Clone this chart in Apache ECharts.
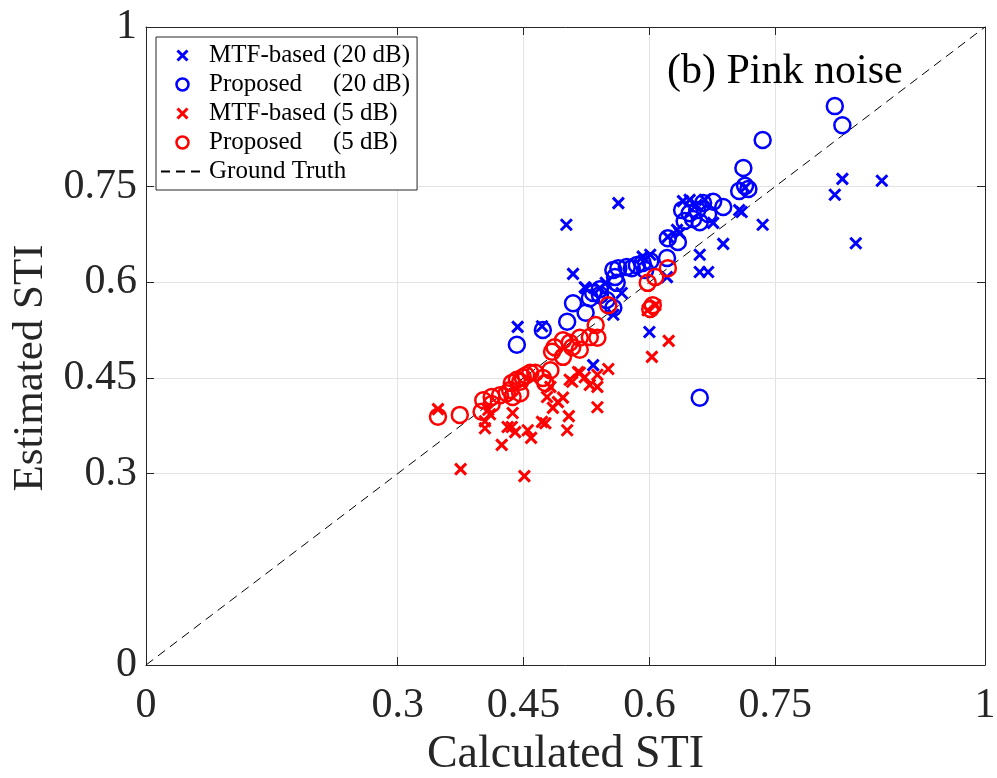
<!DOCTYPE html>
<html>
<head>
<meta charset="utf-8">
<script src="https://cdn.jsdelivr.net/npm/echarts@6/dist/echarts.min.js"></script>
<style>html,body{margin:0;padding:0;background:#fff;}#chart{width:997px;height:778px;}</style>
</head>
<body>
<div id="chart"></div>
<script>
// Tick values
const tickValues = [0, 0.3, 0.45, 0.6, 0.75, 1];

// Series names
const seriesNames = ['MTF-based (20 dB)', 'Proposed (20 dB)', 'MTF-based (5 dB)', 'Proposed (5 dB)', 'Ground Truth'];

// MTF-based (20 dB): [calculated STI, estimated STI]
const mtf20 = [
  [0.501,0.690],[0.563,0.724],[0.443,0.530],[0.472,0.531],[0.509,0.613],[0.524,0.591],
  [0.533,0.470],[0.567,0.583],[0.557,0.549],[0.541,0.591],[0.592,0.640],[0.601,0.643],
  [0.622,0.671],[0.636,0.677],[0.648,0.729],[0.666,0.729],[0.640,0.727],[0.676,0.693],
  [0.688,0.660],[0.710,0.710],[0.707,0.713],[0.735,0.690],[0.660,0.643],[0.660,0.616],
  [0.670,0.616],[0.621,0.608],[0.821,0.737],[0.830,0.762],[0.877,0.759],[0.846,0.661],
  [0.600,0.522],[0.714,0.748],[0.523,0.592],[0.633,0.682],[0.548,0.599],[0.656,0.721]
];

// Proposed (20 dB)
const prop20 = [
  [0.821,0.876],[0.830,0.846],[0.735,0.823],[0.712,0.779],[0.714,0.751],[0.707,0.743],
  [0.718,0.746],[0.688,0.718],[0.676,0.726],[0.664,0.724],[0.639,0.713],[0.648,0.708],
  [0.660,0.694],[0.652,0.699],[0.670,0.707],[0.622,0.669],[0.634,0.663],[0.621,0.638],
  [0.601,0.633],[0.592,0.630],[0.585,0.627],[0.573,0.624],[0.563,0.622],[0.557,0.619],
  [0.559,0.608],[0.561,0.599],[0.541,0.589],[0.533,0.583],[0.529,0.575],[0.509,0.567],
  [0.524,0.552],[0.549,0.572],[0.557,0.560],[0.502,0.538],[0.473,0.525],[0.442,0.502],
  [0.660,0.419],[0.579,0.622],[0.595,0.619],[0.541,0.580],[0.657,0.713],[0.642,0.696]
];

// MTF-based (5 dB)
const mtf5 = [
  [0.348,0.401],[0.375,0.307],[0.451,0.296],[0.424,0.345],[0.404,0.371],[0.404,0.382],
  [0.410,0.393],[0.431,0.373],[0.436,0.373],[0.440,0.365],[0.437,0.395],[0.455,0.368],
  [0.459,0.356],[0.472,0.381],[0.476,0.379],[0.485,0.403],[0.491,0.412],[0.478,0.420],
  [0.502,0.368],[0.504,0.390],[0.482,0.436],[0.508,0.444],[0.517,0.458],[0.523,0.451],
  [0.538,0.455],[0.529,0.439],[0.538,0.436],[0.551,0.464],[0.538,0.404],[0.598,0.556],
  [0.607,0.564],[0.603,0.483],[0.623,0.508],[0.515,0.459],[0.505,0.447],[0.497,0.419],
  [0.408,0.400]
];

// Proposed (5 dB)
const prop5 = [
  [0.622,0.622],[0.607,0.608],[0.598,0.599],[0.604,0.564],[0.601,0.558],[0.551,0.564],
  [0.536,0.533],[0.538,0.513],[0.529,0.514],[0.517,0.513],[0.517,0.494],[0.508,0.498],
  [0.497,0.509],[0.497,0.483],[0.487,0.498],[0.482,0.462],[0.473,0.450],[0.476,0.442],
  [0.458,0.458],[0.449,0.451],[0.442,0.447],[0.436,0.442],[0.430,0.426],[0.437,0.420],
  [0.446,0.426],[0.422,0.423],[0.412,0.420],[0.402,0.415],[0.400,0.397],[0.412,0.409],
  [0.374,0.392],[0.348,0.389],[0.434,0.431],[0.453,0.454],[0.464,0.458],[0.446,0.444],
  [0.505,0.505],[0.484,0.491]
];

// Ground truth line endpoints
const groundTruth = [[0,0],[1,1]];

const FONT = 'Liberation Serif';
const TXT = '#262626';
const crossPath = 'path://M0,0L10,10M10,0L0,10';
const crossIcon = 'path://M0,0M16,16M3,3L13,13M13,3L3,13';
const circleIcon = 'path://M0,0M16,16M14,8A6,6,0,1,1,2,8A6,6,0,1,1,14,8Z';

function axisBase(pos, showLabel) {
  return {
    type: 'value', min: 0, max: 1, position: pos,
    axisLine: { show: true, onZero: false, lineStyle: { color: TXT, width: 1 } },
    axisTick: { show: true, inside: true, length: 8, customValues: tickValues, lineStyle: { color: TXT, width: 1 } },
    axisLabel: { show: showLabel, customValues: tickValues, fontFamily: FONT, fontSize: 42, color: TXT,
      formatter: v => String(v) },
    splitLine: { show: false }
  };
}

const xMain = Object.assign(axisBase('bottom', true), {
  name: 'Calculated STI', nameLocation: 'middle', nameGap: 65,
  nameTextStyle: { fontFamily: FONT, fontSize: 46, color: TXT },
  splitLine: { show: true, lineStyle: { color: '#e3e3e3', width: 1 } }
});
xMain.axisLabel.margin = 20;
const yMain = Object.assign(axisBase('left', true), {
  name: 'Estimated STI', nameLocation: 'middle', nameGap: 84,
  nameTextStyle: { fontFamily: FONT, fontSize: 43, color: TXT, padding: [0, 44, 0, 0] },
  splitLine: { show: true, lineStyle: { color: '#e3e3e3', width: 1 } }
});
yMain.axisLabel.margin = 9;

const richText = {
  a: { fontFamily: FONT, fontSize: 25, color: '#000', width: 124 },
  b: { fontFamily: FONT, fontSize: 25, color: '#000' }
};

const chart = echarts.init(document.getElementById('chart'), null, { renderer: 'canvas' });
chart.setOption({
  animation: false,
  backgroundColor: '#fff',
  grid: { left: 146, right: 12, top: 27, bottom: 113, show: false, containLabel: false, outerBoundsMode: 'none' },
  xAxis: [xMain, axisBase('top', false)],
  yAxis: [yMain, axisBase('right', false)],
  title: {
    text: '(b) Pink noise', left: 662, top: 46,
    textStyle: { fontFamily: FONT, fontSize: 42, fontWeight: 'normal', color: '#000' }
  },
  legend: {
    orient: 'vertical', left: 156, top: 37,
    padding: [6, 7, 6, 4],
    backgroundColor: '#fff', borderColor: '#262626', borderWidth: 1,
    itemWidth: 43, itemHeight: 16, itemGap: 4,
    textStyle: { fontFamily: FONT, fontSize: 25, color: '#000', lineHeight: 25, rich: richText },
    formatter: function (name) {
      if (name === 'Ground Truth') return '{a|Ground Truth}';
      const i = name.indexOf('(');
      return '{a|' + name.slice(0, i).trim() + '}{b|' + name.slice(i) + '}';
    },
    data: [
      { name: seriesNames[0], icon: crossIcon, itemStyle: { borderWidth: 3, opacity: 1 } },
      { name: seriesNames[1], icon: circleIcon, itemStyle: { borderWidth: 2.5, opacity: 1 } },
      { name: seriesNames[2], icon: crossIcon, itemStyle: { borderWidth: 3, opacity: 1 } },
      { name: seriesNames[3], icon: circleIcon, itemStyle: { borderWidth: 2.5, opacity: 1 } },
      { name: seriesNames[4], itemStyle: { opacity: 0 } }
    ]
  },
  series: [
    {
      name: seriesNames[4], type: 'line', data: groundTruth, symbol: 'none', z: 1,
      lineStyle: { color: '#000', width: 1, type: [9, 6] }, silent: true
    },
    {
      name: seriesNames[0], type: 'scatter', data: mtf20, symbol: crossPath, symbolSize: 11,
      itemStyle: { color: 'transparent', borderColor: '#0000ff', borderWidth: 3, opacity: 1 }
    },
    {
      name: seriesNames[1], type: 'scatter', data: prop20, symbol: 'circle', symbolSize: 16,
      itemStyle: { color: 'transparent', borderColor: '#0000ff', borderWidth: 2.5, opacity: 1 }
    },
    {
      name: seriesNames[2], type: 'scatter', data: mtf5, symbol: crossPath, symbolSize: 11,
      itemStyle: { color: 'transparent', borderColor: '#ff0000', borderWidth: 3, opacity: 1 }
    },
    {
      name: seriesNames[3], type: 'scatter', data: prop5, symbol: 'circle', symbolSize: 16,
      itemStyle: { color: 'transparent', borderColor: '#ff0000', borderWidth: 2.5, opacity: 1 }
    }
  ]
});
</script>
</body>
</html>
